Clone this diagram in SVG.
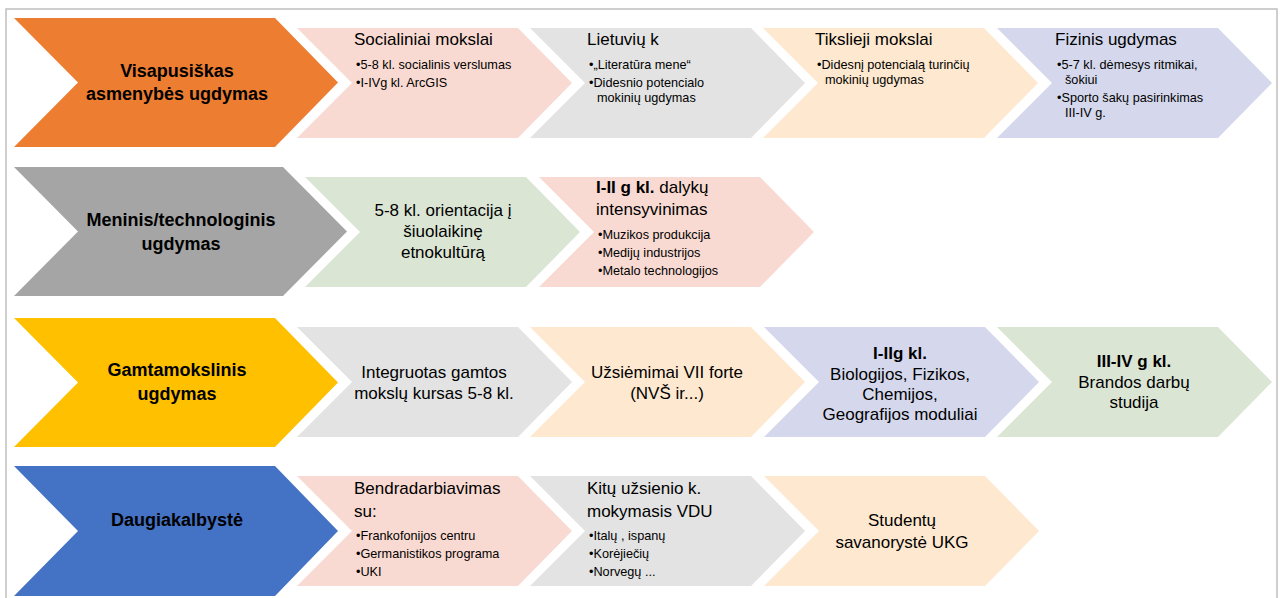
<svg xmlns="http://www.w3.org/2000/svg" width="1281" height="598" viewBox="0 0 1281 598">
<style>
text{font-family:"Liberation Sans",Arial,sans-serif;fill:#000}
.main{font-size:18px;font-weight:bold;text-anchor:middle}
.ttl{font-size:17px}
.ctr{font-size:17px;text-anchor:middle}
.bl{font-size:12.7px}
.b{font-weight:bold}
.orange{fill:#ED7D31}.gmain{fill:#A5A5A5}.yellow{fill:#FFC000}.blue{fill:#4472C4}
.pink{fill:#F9DAD2}.lgray{fill:#E3E3E3}.peach{fill:#FEE8CF}.lav{fill:#D5D8EC}.green{fill:#DBE5D4}
</style>
<rect x="0" y="0" width="1281" height="598" fill="#fff"/>
<rect x="6" y="9" width="1271" height="600" fill="none" stroke="#BFBFBF" stroke-width="1.5"/>
<g id="connectors"/>

<!-- Row 1 -->
<g id="n-visapusiskas">
<polygon class="orange" points="14,18 275,18 338,82.5 275,147 14,147 78,82.5"/>
<text class="main" x="177" y="77">Visapusiškas</text>
<text class="main" x="177" y="100">asmenybės ugdymas</text>
</g>
<g id="n-socialiniai">
<polygon class="pink" points="297,28 518,28 572,83 518,138 297,138 352,83"/>
<text class="ttl" x="354" y="45">Socialiniai mokslai</text>
<text class="bl" x="356" y="69">•5-8 kl. socialinis verslumas</text>
<text class="bl" x="356" y="87">•I-IVg kl. ArcGIS</text>
</g>
<g id="n-lietuviu">
<polygon class="lgray" points="530,28 751,28 805,83 751,138 530,138 585,83"/>
<text class="ttl" x="587" y="45">Lietuvių k</text>
<text class="bl" x="589" y="69">•„Literatūra mene“</text>
<text class="bl" x="589" y="87">•Didesnio potencialo</text>
<text class="bl" x="597" y="102">mokinių ugdymas</text>
</g>
<g id="n-tikslieji">
<polygon class="peach" points="763,28 984,28 1038,83 984,138 763,138 818,83"/>
<text class="ttl" x="815" y="45">Tikslieji mokslai</text>
<text class="bl" x="817" y="69">•Didesnį potencialą turinčių</text>
<text class="bl" x="825" y="84">mokinių ugdymas</text>
</g>
<g id="n-fizinis">
<polygon class="lav" points="997,28 1218,28 1272,83 1218,138 997,138 1052,83"/>
<text class="ttl" x="1055" y="45">Fizinis ugdymas</text>
<text class="bl" x="1057" y="69">•5-7 kl. dėmesys ritmikai,</text>
<text class="bl" x="1065" y="84">šokiui</text>
<text class="bl" x="1057" y="102">•Sporto šakų pasirinkimas</text>
<text class="bl" x="1065" y="117">III-IV g.</text>
</g>

<!-- Row 2 -->
<g id="n-meninis">
<polygon class="gmain" points="14,167 283,167 347,231.5 283,296 14,296 78,231.5"/>
<text class="main" x="181" y="226">Meninis/technologinis</text>
<text class="main" x="181" y="250">ugdymas</text>
</g>
<g id="n-etnokultura">
<polygon class="green" points="305,177 526,177 580,232 526,287 305,287 360,232"/>
<text class="ctr" x="443" y="216">5-8 kl. orientacija į</text>
<text class="ctr" x="443" y="237">šiuolaikinę</text>
<text class="ctr" x="443" y="258">etnokultūrą</text>
</g>
<g id="n-intensyvinimas">
<polygon class="pink" points="539,177 760,177 814,232 760,287 539,287 594,232"/>
<text class="ttl" x="596" y="193"><tspan class="b">I-II g kl.</tspan> dalykų</text>
<text class="ttl" x="596" y="215">intensyvinimas</text>
<text class="bl" x="598" y="239">•Muzikos produkcija</text>
<text class="bl" x="598" y="257">•Medijų industrijos</text>
<text class="bl" x="598" y="275">•Metalo technologijos</text>
</g>

<!-- Row 3 -->
<g id="n-gamtamokslinis">
<polygon class="yellow" points="14,318 275,318 338,382.5 275,447 14,447 78,382.5"/>
<text class="main" x="177" y="376">Gamtamokslinis</text>
<text class="main" x="177" y="400">ugdymas</text>
</g>
<g id="n-integruotas">
<polygon class="lgray" points="297,327 518,327 572,382 518,437 297,437 352,382"/>
<text class="ctr" x="434" y="378">Integruotas gamtos</text>
<text class="ctr" x="434" y="399">mokslų kursas 5-8 kl.</text>
</g>
<g id="n-uzsiemimai">
<polygon class="peach" points="530,327 751,327 805,382 751,437 530,437 585,382"/>
<text class="ctr" x="667" y="378">Užsiėmimai VII forte</text>
<text class="ctr" x="667" y="399">(NVŠ ir...)</text>
</g>
<g id="n-moduliai">
<polygon class="lav" points="764,327 985,327 1039,382 985,437 764,437 819,382"/>
<text class="ctr b" x="900" y="359">I-IIg kl.</text>
<text class="ctr" x="900" y="380">Biologijos, Fizikos,</text>
<text class="ctr" x="900" y="400">Chemijos,</text>
<text class="ctr" x="900" y="420">Geografijos moduliai</text>
</g>
<g id="n-brandos">
<polygon class="green" points="997,327 1218,327 1272,382 1218,437 997,437 1052,382"/>
<text class="ctr b" x="1134" y="367">III-IV g kl.</text>
<text class="ctr" x="1134" y="388">Brandos darbų</text>
<text class="ctr" x="1134" y="408">studija</text>
</g>

<!-- Row 4 -->
<g id="n-daugiakalbyste">
<polygon class="blue" points="14,466 275,466 338,531 275,596 14,596 78,531"/>
<text class="main" x="177" y="526">Daugiakalbystė</text>
</g>
<g id="n-bendradarbiavimas">
<polygon class="pink" points="297,476 518,476 572,531 518,586 297,586 352,531"/>
<text class="ttl" x="354" y="494">Bendradarbiavimas</text>
<text class="ttl" x="354" y="517">su:</text>
<text class="bl" x="356" y="540">•Frankofonijos centru</text>
<text class="bl" x="356" y="558">•Germanistikos programa</text>
<text class="bl" x="356" y="576">•UKI</text>
</g>
<g id="n-kitu">
<polygon class="lgray" points="530,476 751,476 805,531 751,586 530,586 585,531"/>
<text class="ttl" x="587" y="494">Kitų užsienio k.</text>
<text class="ttl" x="587" y="517">mokymasis VDU</text>
<text class="bl" x="589" y="540">•Italų , ispanų</text>
<text class="bl" x="589" y="558">•Korėjiečių</text>
<text class="bl" x="589" y="576">•Norvegų ...</text>
</g>
<g id="n-studentu">
<polygon class="peach" points="764,476 985,476 1039,531 985,586 764,586 819,531"/>
<text class="ctr" x="902" y="526">Studentų</text>
<text class="ctr" x="902" y="548">savanorystė UKG</text>
</g>
</svg>
